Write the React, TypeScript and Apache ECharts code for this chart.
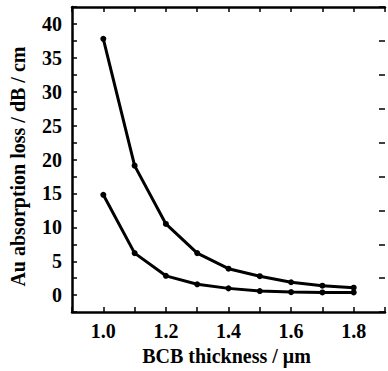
import React, { useEffect, useRef } from "react";
import * as echarts from "echarts";

const thickness = [1.0, 1.1, 1.2, 1.3, 1.4, 1.5, 1.6, 1.7, 1.8];
const lossUpper = [37.8, 19.1, 10.5, 6.2, 3.9, 2.8, 1.9, 1.4, 1.1];
const lossLower = [14.8, 6.2, 2.85, 1.6, 1.0, 0.6, 0.45, 0.4, 0.4];
const xLabelValues = [1.0, 1.2, 1.4, 1.6, 1.8];
const yLabelValues = [0, 5, 10, 15, 20, 25, 30, 35, 40];

const FONT = "Liberation Serif";

export default function App() {
  const ref = useRef<HTMLDivElement>(null);
  useEffect(() => {
    document.body.style.margin = "0";
    const chart = echarts.init(ref.current!, null, { renderer: "svg" });
    const axisLine = { show: true, onZero: false, lineStyle: { color: "#000", width: 2.5 } };
    const tick = { show: true, inside: true, length: 5, lineStyle: { color: "#000", width: 1.5 } };
    const xFmt = (v: number) => {
      const hit = xLabelValues.find((x) => Math.abs(x - v) < 1e-6);
      return hit !== undefined ? hit.toFixed(1) : "";
    };
    const yFmt = (v: number) => {
      const hit = yLabelValues.find((y) => Math.abs(y - v) < 1e-6);
      return hit !== undefined ? String(hit) : "";
    };
    const labelStyle = { color: "#000", fontFamily: FONT, fontSize: 20, fontWeight: "bold" as const };
    const mkSeries = (vals: number[]) => ({
      type: "line",
      data: thickness.map((x, i) => [x, vals[i]]),
      symbol: "circle",
      symbolSize: 6,
      itemStyle: { color: "#000" },
      lineStyle: { color: "#000", width: 3 },
    });
    chart.setOption({
      animation: false,
      backgroundColor: "#fff",
      grid: { left: 72, top: 7, width: 320, height: 306 },
      xAxis: [
        {
          type: "value",
          min: 0.9,
          max: 1.9,
          interval: 0.1,
          axisLine,
          axisTick: tick,
          splitLine: { show: false },
          axisLabel: { ...labelStyle, margin: 9, formatter: xFmt },
          name: "BCB thickness / μm",
          nameLocation: "middle",
          nameGap: 31,
          nameTextStyle: { ...labelStyle, padding: [0, 4, 0, 0] },
        },
        {
          type: "value",
          position: "top",
          min: 0.9,
          max: 1.9,
          interval: 0.1,
          axisLine,
          axisTick: tick,
          splitLine: { show: false },
          axisLabel: { show: false },
        },
      ],
      yAxis: [
        {
          type: "value",
          min: -2.5,
          max: 42.5,
          interval: 2.5,
          axisLine,
          axisTick: tick,
          splitLine: { show: false },
          axisLabel: { ...labelStyle, margin: 10, formatter: yFmt },
          name: "Au absorption loss / dB / cm",
          nameLocation: "middle",
          nameGap: 44,
          nameTextStyle: { ...labelStyle, padding: [0, 14, 0, 0] },
        },
        {
          type: "value",
          position: "right",
          min: -2.5,
          max: 42.5,
          interval: 5,
          axisLine: { show: false },
          axisTick: { ...tick, length: 6 },
          splitLine: { show: false },
          axisLabel: { show: false },
        },
      ],
      series: [mkSeries(lossUpper), mkSeries(lossLower)],
    });
    return () => chart.dispose();
  }, []);
  return <div ref={ref} style={{ width: 388, height: 371 }} />;
}
